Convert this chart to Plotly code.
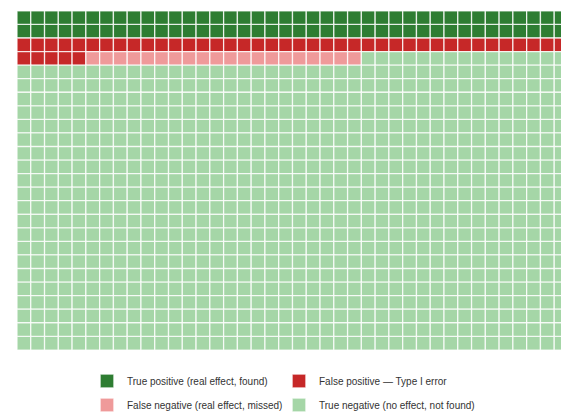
import plotly.graph_objects as go

# waffle of 1000 hypothetical tests, 40 columns x 25 rows
n_cols = 40
n_rows = 25
categories = ["True positive (real effect, found)",
              "False positive \u2014 Type I error",
              "False negative (real effect, missed)",
              "True negative (no effect, not found)"]
counts = [80, 45, 20, 855]
colors = ["#2e7d32", "#c62828", "#ef9a9a", "#a5d6a7"]
legend_ids = ["legend", "legend2", "legend3", "legend4"]

fig = go.Figure()
start = 0
for name, n, c, lg in zip(categories, counts, colors, legend_ids):
    idx = list(range(start, start + n))
    start += n
    fig.add_trace(go.Scatter(
        x=[i % n_cols for i in idx],
        y=[i // n_cols for i in idx],
        mode="markers",
        name=name,
        legend=lg,
        marker=dict(symbol="square", size=13.8, color=c,
                    line=dict(color="rgba(255,255,255,0.8)", width=1.3)),
        hoverinfo="name",
    ))

fig.update_xaxes(range=[-0.5, n_cols - 0.5], visible=False, fixedrange=True)
fig.update_yaxes(range=[n_rows - 0.5, -0.5], visible=False, fixedrange=True)

# legend laid out as a 2x2 block under the grid
leg = dict(orientation="h", xref="container", yref="container",
           xanchor="left", yanchor="middle", itemsizing="trace",
           bgcolor="rgba(0,0,0,0)", font=dict(size=10))
col_x = [79 / 569, 271 / 569]
row_y = [1 - 373 / 417, 1 - 397 / 417]

fig.update_layout(
    width=569, height=417,
    margin=dict(l=9, r=9, t=3, b=75),
    showlegend=True,
    plot_bgcolor="white", paper_bgcolor="white",
    font=dict(family="Liberation Sans, Arial, sans-serif", size=10, color="#333"),
    legend=dict(leg, x=col_x[0], y=row_y[0]),
    legend2=dict(leg, x=col_x[1], y=row_y[0]),
    legend3=dict(leg, x=col_x[0], y=row_y[1]),
    legend4=dict(leg, x=col_x[1], y=row_y[1]),
)

fig.write_html("out.html")
